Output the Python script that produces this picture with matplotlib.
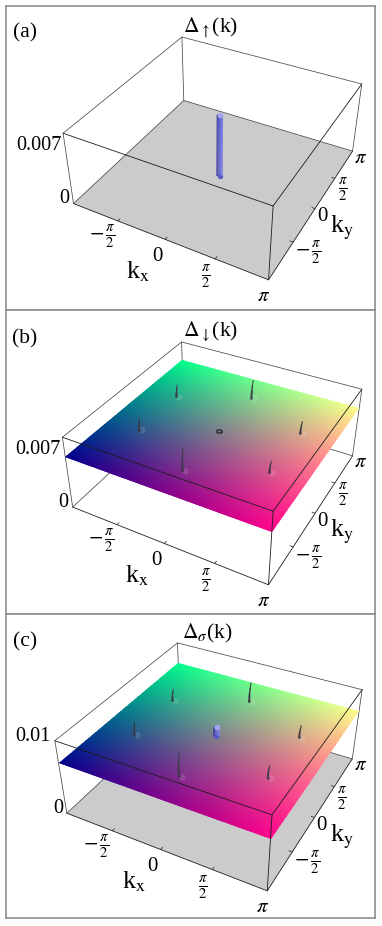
import numpy as np
import matplotlib

matplotlib.use("Agg")

import matplotlib.pyplot as plt
from matplotlib.patches import Polygon

plt.rcParams["font.family"] = ["Liberation Serif", "DejaVu Serif"]
plt.rcParams["mathtext.fontset"] = "stix"

W, H = 382, 926

# values
kx_ticks = [-np.pi / 2, 0, np.pi / 2, np.pi]
ky_ticks = [-np.pi / 2, 0, np.pi / 2, np.pi]
kx_labels = [r"$-\,\frac{\pi}{2}$", "0", r"$\frac{\pi}{2}$", r"$\pi$"]
ky_labels = [r"$-\,\frac{\pi}{2}$", "0", r"$\frac{\pi}{2}$", r"$\pi$"]
kx_offsets = [(-16, 16), (-8, 17), (-9, 18), (-5, 17)]
ky_offsets = [(15, 11), (7, 8), (8, 12), (8, 7)]

spike_kx = np.array([-2 / 3, 0, -2 / 3, 2 / 3, 0, 2 / 3]) * np.pi
spike_ky = np.array([1 / 3, 2 / 3, -1 / 3, 1 / 3, -2 / 3, -1 / 3]) * np.pi
spike_height_down = [0.0015, 0.0023, 0.0015, 0.0015, 0.0026, 0.0014]
spike_height_sigma = [0.0016, 0.0026, 0.0017, 0.0016, 0.0030, 0.0016]

plane_down = 0.0067
plane_sigma = 0.0071
peak_up = 0.0083
peak_sigma = 0.0083

# box corners on the 3x crops: bottom A B C D, then top A B C D
corners_a = [(220, 610), (805, 840), (1058, 452), (552, 303),
             (190, 400), (820, 618), (1085, 253), (545, 110)]
corners_b = [(218, 605), (805, 840), (1058, 452), (550, 300),
             (187, 398), (820, 618), (1085, 253), (545, 110)]
corners_c = [(200, 608), (800, 843), (1058, 445), (540, 297),
             (165, 393), (818, 615), (1085, 240), (532, 97)]


def make_camera(corners, y_off, ztop):
    # fit a 3x4 projection from the eight box corners
    px = np.array(corners, dtype=float) / 3 + [0, y_off]
    rows = []
    for i, (s, t, u) in enumerate([(-1, -1, 0), (1, -1, 0), (1, 1, 0), (-1, 1, 0),
                                   (-1, -1, 1), (1, -1, 1), (1, 1, 1), (-1, 1, 1)]):
        x, y = px[i]
        rows.append([s, t, u, 1, 0, 0, 0, 0, -x * s, -x * t, -x * u, -x])
        rows.append([0, 0, 0, 0, s, t, u, 1, -y * s, -y * t, -y * u, -y])
    p = np.linalg.svd(np.array(rows))[2][-1].reshape(3, 4)

    def cam(kx, ky, z):
        kx, ky, z = np.broadcast_arrays(kx, ky, z)
        v = np.stack([kx / np.pi, ky / np.pi, z / ztop, np.ones(kx.shape)])
        q = np.tensordot(p, v, axes=1)
        return q[0] / q[2], q[1] / q[2]

    return cam


def line3(ax, cam, a, b, **kw):
    x, y = cam(*np.array([a, b]).T)
    kw.setdefault("color", "#1c1c1c")
    kw.setdefault("lw", 0.6)
    ax.plot(x, y, solid_capstyle="round", **kw)


def draw_box(ax, cam, ztop):
    pi = np.pi
    # back edges go under the plane
    for a, b in [((-pi, pi, 0), (pi, pi, 0)), ((-pi, -pi, 0), (-pi, pi, 0)),
                 ((-pi, pi, 0), (-pi, pi, ztop)), ((pi, pi, 0), (pi, pi, ztop)),
                 ((-pi, -pi, 0), (-pi, -pi, ztop)),
                 ((-pi, pi, ztop), (pi, pi, ztop)), ((-pi, -pi, ztop), (-pi, pi, ztop))]:
        line3(ax, cam, a, b, zorder=1.5, color="#4a4a4a", lw=0.55)
    # front edges go over it
    for a, b in [((-pi, -pi, 0), (pi, -pi, 0)), ((pi, -pi, 0), (pi, pi, 0)),
                 ((pi, -pi, 0), (pi, -pi, ztop)),
                 ((-pi, -pi, ztop), (pi, -pi, ztop)), ((pi, -pi, ztop), (pi, pi, ztop))]:
        line3(ax, cam, a, b, zorder=6)


def draw_ticks(ax, cam, ztop, z_ticks, z_labels):
    pi = np.pi
    for val, lab, (dx, dy) in zip(kx_ticks, kx_labels, kx_offsets):
        x, y = cam(val, -pi, 0)
        ax.text(x + dx, y + dy, lab, fontsize=15, ha="center", va="center", zorder=7)
        if val < pi:
            line3(ax, cam, (val, -pi, 0), (val, -pi + 0.1, 0), zorder=6, lw=0.5)
    for val, lab, (dx, dy) in zip(ky_ticks, ky_labels, ky_offsets):
        x, y = cam(pi, val, 0)
        ax.text(x + dx, y + dy, lab, fontsize=15, ha="center", va="center", zorder=7)
        if val < pi:
            line3(ax, cam, (pi, val, 0), (pi - 0.1, val, 0), zorder=6, lw=0.5)
    for val, lab in zip(z_ticks, z_labels):
        x, y = cam(-pi, -pi, val)
        ax.text(x - 4, y - 5, lab, fontsize=14.6, ha="right", va="center", zorder=7)

    x, y = cam(0, -pi, 0)
    ax.text(x - 27, y + 32, r"k$_{\mathrm{x}}$", fontsize=18.5, ha="center", va="center", zorder=7)
    x, y = cam(pi, 0, 0)
    ax.text(x + 27, y + 19, r"k$_{\mathrm{y}}$", fontsize=18.5, ha="center", va="center", zorder=7)


def draw_floor(ax, cam):
    pi = np.pi
    x, y = cam(np.array([-pi, pi, pi, -pi]), np.array([-pi, -pi, pi, pi]), 0)
    ax.fill(x, y, color="#cbcbcb", lw=0, zorder=1)


def draw_plane(ax, cam, z):
    # mesh runs a little past the sheet, the clip polygon gives the clean edge
    edges = np.linspace(-1.03 * np.pi, 1.03 * np.pi, 181)
    kx, ky = np.meshgrid(edges, edges)
    x, y = cam(kx, ky, z)
    mid = (edges[:-1] + edges[1:]) / 2
    mx, my = np.meshgrid(mid, mid)
    rgb = np.dstack([np.clip((mx + np.pi) / (2 * np.pi), 0, 1),
                     np.clip((my + np.pi) / (2 * np.pi), 0, 1),
                     np.full(mx.shape, 0.55)])
    mesh = ax.pcolormesh(x, y, rgb, shading="flat", antialiased=False, edgecolors="none", zorder=2)
    pi = np.pi
    cx, cy = cam(np.array([-pi, pi, pi, -pi]), np.array([-pi, -pi, pi, pi]), z)
    outline = Polygon(np.column_stack([cx, cy]), closed=True, transform=ax.transData)
    mesh.set_clip_path(outline)


def draw_spikes(ax, cam, z, heights):
    for kx, ky, h in zip(spike_kx, spike_ky, heights):
        x0, y0 = cam(kx, ky, z)
        x1, y1 = cam(kx, ky, z + h)
        # pale spot on the sheet next to the foot
        ax.scatter([x0 + 3], [y0 + 0.5], s=22, color="white", alpha=0.13, lw=0, zorder=3)
        ax.scatter([x0], [y0], s=6, color="#222230", alpha=0.45, lw=0, zorder=3.2)
        # curved, thinning needle
        t = np.array([0, 0.35, 0.7, 1.0])
        xs = x0 + (x1 - x0) * t + 1.2 * t ** 2
        ys = y0 + (y1 - y0) * t
        for i, lw in enumerate([1.3, 1.0, 0.75]):
            ax.plot(xs[i:i + 2], ys[i:i + 2], color="#3a3a44", lw=lw,
                    solid_capstyle="round", zorder=3.5)


def draw_peak(ax, cam, z0, z1, half):
    x0, y0 = cam(0, 0, z0)
    x1, y1 = cam(0, 0, z1)
    shades = ["#42429a", "#4e4eb6", "#5a5aca", "#6666d6", "#7272dc", "#8080e2"]
    off = np.linspace(-half, half, len(shades))
    for d, c in zip(off, shades):
        ax.plot([x0 + d, x1 + d], [y0, y1], color=c, lw=0.9, solid_capstyle="butt", zorder=4)
    ax.scatter([x1 + 0.3], [y1], s=half * 6, color="#a4a4ee", lw=0, zorder=4.5, marker="o")
    ax.scatter([x0], [y0], s=half * 6, color="#5a5ac4", lw=0, zorder=3.9, marker="o")


def draw_ring(ax, cam, z, r):
    t = np.linspace(0, 2 * np.pi, 40)
    x, y = cam(r * np.cos(t), r * np.sin(t), z)
    ax.plot(x, y, color="#3a3a44", lw=1.3, zorder=4)


def make_panel(fig, top, bottom):
    left, right = 5.5, 375.0
    ax = fig.add_axes([left / W, 1 - bottom / H, (right - left) / W, (bottom - top) / H])
    ax.set_xlim(left, right)
    ax.set_ylim(bottom, top)
    ax.set_xticks([])
    ax.set_yticks([])
    for s in ax.spines.values():
        s.set_color("#8e8e8e")
        s.set_linewidth(1.2)
    return ax


fig = plt.figure(figsize=(W / 100, H / 100), dpi=100, facecolor="white")

# (a)
ztop = 0.0092
ax = make_panel(fig, 5.5, 309.7)
cam = make_camera(corners_a, 0, ztop)
draw_floor(ax, cam)
draw_box(ax, cam, ztop)
draw_peak(ax, cam, 0, peak_up, 2.6)
draw_ticks(ax, cam, ztop, [0, 0.007], ["0", "0.007"])
ax.text(12.5, 33, "(a)", fontsize=15.5, ha="left", va="center")
ax.text(211, 28, r"$\Delta_{\uparrow}$(k)", fontsize=15.5, ha="center", va="center")

# (b)
ztop = 0.0092
ax = make_panel(fig, 309.7, 614.0)
cam = make_camera(corners_b, 305, ztop)
draw_box(ax, cam, ztop)
draw_plane(ax, cam, plane_down)
draw_spikes(ax, cam, plane_down, spike_height_down)
draw_ring(ax, cam, plane_down, 0.08)
draw_ticks(ax, cam, ztop, [0, 0.007], ["0", "0.007"])
ax.text(12, 339, "(b)", fontsize=15.5, ha="left", va="center")
ax.text(211, 332, r"$\Delta_{\downarrow}$(k)", fontsize=15.5, ha="center", va="center")

# (c)
ztop = 0.0101
ax = make_panel(fig, 614.0, 918.0)
cam = make_camera(corners_c, 610, ztop)
draw_floor(ax, cam)
draw_box(ax, cam, ztop)
draw_plane(ax, cam, plane_sigma)
draw_spikes(ax, cam, plane_sigma, spike_height_sigma)
draw_peak(ax, cam, plane_sigma, peak_sigma, 2.8)
draw_ticks(ax, cam, ztop, [0, 0.01], ["0", "0.01"])
ax.text(12.5, 642, "(c)", fontsize=15.5, ha="left", va="center")
ax.text(207, 633, r"$\Delta_{\sigma}$(k)", fontsize=15.5, ha="center", va="center")

fig.savefig("out.png", dpi=100)
